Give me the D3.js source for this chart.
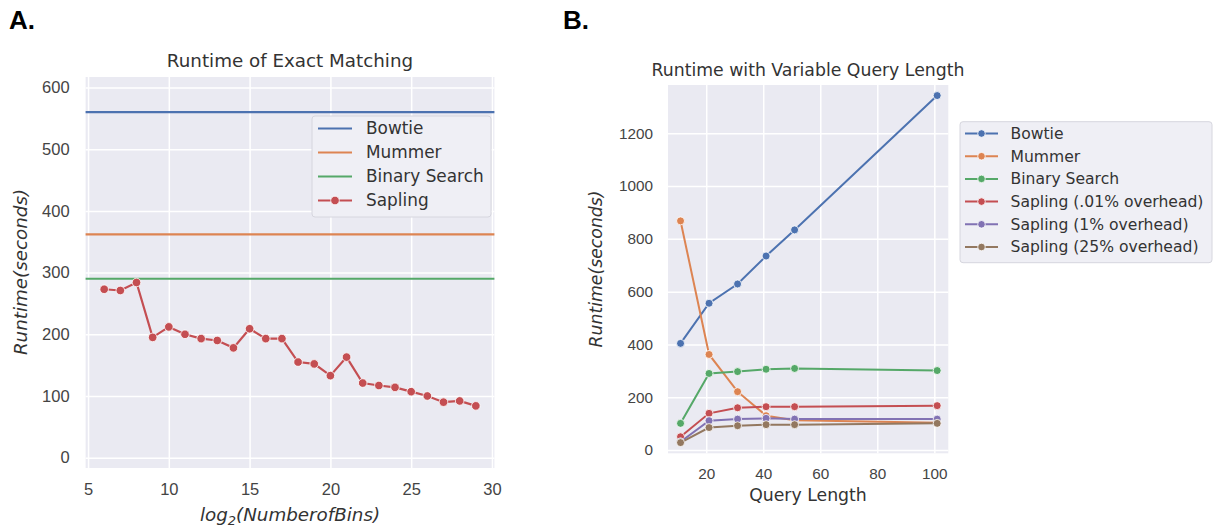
<!DOCTYPE html>
<html>
<head>
<meta charset="utf-8">
<script src="https://cdn.jsdelivr.net/npm/d3@7"></script>
<style>
  body { margin: 0; background: #fff; }
  svg { display: block; font-family: "DejaVu Sans", sans-serif; }
  .grid line { stroke: #fff; stroke-width: 1.5; }
  .grid .domain { display: none; }
  .grid text { fill: #444; }
</style>
</head>
<body>
<svg width="1214" height="527"></svg>
<script>
// panel A: runtime of exact matching
var binsX = [6, 7, 8, 9, 10, 11, 12, 13, 14, 15, 16, 17, 18, 19, 20, 21, 22, 23, 24, 25, 26, 27, 28, 29];
var saplingA = [273, 271, 284, 195, 212, 200, 193, 190, 178, 209, 193, 193, 155, 152, 133, 163, 121, 117, 114, 107, 100, 90, 92, 84];
var bowtieA = 560;
var mummerA = 362;
var binaryA = 290;
var ticksAx = [5, 10, 15, 20, 25, 30];
var ticksAy = [0, 100, 200, 300, 400, 500, 600];

// panel B: runtime with variable query length
var queryLen = [11, 21, 31, 41, 51, 101];
var bowtieB = [404, 556, 629, 735, 834, 1343];
var mummerB = [868, 362, 221, 130, 113, 103];
var binaryB = [101, 290, 297, 306, 309, 301];
var sap01B = [50, 139, 160, 164, 164, 168];
var sap1B = [31, 111, 117, 120, 117, 117];
var sap25B = [28, 85, 92, 96, 96, 101];
var ticksBx = [20, 40, 60, 80, 100];
var ticksBy = [0, 200, 400, 600, 800, 1000, 1200];

var colors = ["#4c72b0", "#dd8452", "#55a868", "#c44e52", "#8172b3", "#937860"];

var svg = d3.select("svg");

svg.append("text").attr("x", 9).attr("y", 29)
    .style("font-family", "'Liberation Sans', Arial, sans-serif")
    .style("font-weight", "bold").style("font-size", "26px").text("A.");
svg.append("text").attr("x", 563).attr("y", 29)
    .style("font-family", "'Liberation Sans', Arial, sans-serif")
    .style("font-weight", "bold").style("font-size", "26px").text("B.");

// ---------- panel A ----------
var xA = d3.scaleLinear().domain([4.85, 30.15]).range([85.6, 494.4]);
var yA = d3.scaleLinear().domain([-16.7, 617]).range([468, 77]);

var gA = svg.append("g");
gA.append("rect").attr("x", xA.range()[0]).attr("y", yA.range()[1])
    .attr("width", xA.range()[1] - xA.range()[0])
    .attr("height", yA.range()[0] - yA.range()[1])
    .attr("fill", "#eaeaf2");

gA.append("g").attr("class", "grid")
    .attr("transform", "translate(0," + yA.range()[0] + ")")
    .call(d3.axisBottom(xA).tickValues(ticksAx).tickSize(-(yA.range()[0] - yA.range()[1])).tickPadding(15))
    .call(function (g) { g.selectAll("text").style("font-size", "16.5px"); });

gA.append("g").attr("class", "grid")
    .attr("transform", "translate(" + xA.range()[0] + ",0)")
    .call(d3.axisLeft(yA).tickValues(ticksAy).tickSize(-(xA.range()[1] - xA.range()[0])).tickPadding(16))
    .call(function (g) { g.selectAll("text").style("font-size", "16.5px"); });

[[bowtieA, colors[0]], [mummerA, colors[1]], [binaryA, colors[2]]].forEach(function (h) {
    gA.append("line")
        .attr("x1", xA.range()[0]).attr("x2", xA.range()[1])
        .attr("y1", yA(h[0])).attr("y2", yA(h[0]))
        .attr("stroke", h[1]).attr("stroke-width", 2.2);
});

var lineA = d3.line()
    .x(function (d, i) { return xA(binsX[i]); })
    .y(function (d) { return yA(d); });

gA.append("path").datum(saplingA)
    .attr("d", lineA).attr("fill", "none")
    .attr("stroke", colors[3]).attr("stroke-width", 2.2);

gA.selectAll(".ptA").data(saplingA).enter().append("circle")
    .attr("cx", function (d, i) { return xA(binsX[i]); })
    .attr("cy", function (d) { return yA(d); })
    .attr("r", 4.3).attr("fill", colors[3])
    .attr("stroke", "#fff").attr("stroke-width", 0.8);

gA.append("text").attr("x", 290).attr("y", 66.5).attr("text-anchor", "middle")
    .style("font-size", "18.3px").attr("fill", "#333").text("Runtime of Exact Matching");

var xlab = gA.append("text").attr("x", 290).attr("y", 521).attr("text-anchor", "middle")
    .style("font-size", "18.3px").style("font-style", "italic").attr("fill", "#333");
xlab.append("tspan").text("log");
xlab.append("tspan").attr("dy", 4).style("font-size", "13px").text("2");
xlab.append("tspan").attr("dy", -4).text("(NumberofBins)");

gA.append("text").attr("transform", "translate(27,272) rotate(-90)").attr("text-anchor", "middle")
    .style("font-size", "18.3px").style("font-style", "italic").attr("fill", "#333")
    .text("Runtime(seconds)");

// legend A
var legA = gA.append("g");
legA.append("rect").attr("x", 312).attr("y", 116).attr("width", 179).attr("height", 101)
    .attr("rx", 3).attr("fill", "#efeff5").attr("stroke", "#d6d6de");
["Bowtie", "Mummer", "Binary Search", "Sapling"].forEach(function (name, i) {
    var yy = 128.5 + i * 24;
    legA.append("line").attr("x1", 318).attr("x2", 352).attr("y1", yy).attr("y2", yy)
        .attr("stroke", colors[i]).attr("stroke-width", 2.2);
    if (i === 3) {
        legA.append("circle").attr("cx", 335).attr("cy", yy).attr("r", 4.3)
            .attr("fill", colors[i]).attr("stroke", "#fff").attr("stroke-width", 0.8);
    }
    legA.append("text").attr("x", 366).attr("y", yy).attr("dy", "0.35em")
        .style("font-size", "16.9px").attr("fill", "#333").text(name);
});

// ---------- panel B ----------
var xB = d3.scaleLinear().domain([6.6, 104.9]).range([668, 948.3]);
var yB = d3.scaleLinear().domain([-12.5, 1383]).range([453.3, 85]);

var gB = svg.append("g");
gB.append("rect").attr("x", xB.range()[0]).attr("y", yB.range()[1])
    .attr("width", xB.range()[1] - xB.range()[0])
    .attr("height", yB.range()[0] - yB.range()[1])
    .attr("fill", "#eaeaf2");

gB.append("g").attr("class", "grid")
    .attr("transform", "translate(0," + yB.range()[0] + ")")
    .call(d3.axisBottom(xB).tickValues(ticksBx).tickSize(-(yB.range()[0] - yB.range()[1])).tickPadding(15))
    .call(function (g) { g.selectAll("text").style("font-size", "15.3px"); });

gB.append("g").attr("class", "grid")
    .attr("transform", "translate(" + xB.range()[0] + ",0)")
    .call(d3.axisLeft(yB).tickValues(ticksBy).tickFormat(d3.format("d"))
        .tickSize(-(xB.range()[1] - xB.range()[0])).tickPadding(15))
    .call(function (g) { g.selectAll("text").style("font-size", "15.3px"); });

var seriesB = [bowtieB, mummerB, binaryB, sap01B, sap1B, sap25B];
var namesB = ["Bowtie", "Mummer", "Binary Search", "Sapling (.01% overhead)", "Sapling (1% overhead)", "Sapling (25% overhead)"];

var lineB = d3.line()
    .x(function (d, i) { return xB(queryLen[i]); })
    .y(function (d) { return yB(d); });

seriesB.forEach(function (s, k) {
    gB.append("path").datum(s).attr("d", lineB).attr("fill", "none")
        .attr("stroke", colors[k]).attr("stroke-width", 2);
    gB.selectAll(".ptB" + k).data(s).enter().append("circle")
        .attr("cx", function (d, i) { return xB(queryLen[i]); })
        .attr("cy", function (d) { return yB(d); })
        .attr("r", 4).attr("fill", colors[k])
        .attr("stroke", "#fff").attr("stroke-width", 0.8);
});

gB.append("text").attr("x", 808).attr("y", 76).attr("text-anchor", "middle")
    .style("font-size", "17.3px").attr("fill", "#333").text("Runtime with Variable Query Length");

gB.append("text").attr("x", 808).attr("y", 501).attr("text-anchor", "middle")
    .style("font-size", "17.3px").attr("fill", "#333").text("Query Length");

gB.append("text").attr("transform", "translate(602,269) rotate(-90)").attr("text-anchor", "middle")
    .style("font-size", "17.3px").style("font-style", "italic").attr("fill", "#333")
    .text("Runtime(seconds)");

// legend B
var legB = gB.append("g");
legB.append("rect").attr("x", 960).attr("y", 121.7).attr("width", 252).attr("height", 141)
    .attr("rx", 3).attr("fill", "#efeff5").attr("stroke", "#d6d6de");
namesB.forEach(function (name, i) {
    var yy = 133.5 + i * 22.7;
    legB.append("line").attr("x1", 965).attr("x2", 998).attr("y1", yy).attr("y2", yy)
        .attr("stroke", colors[i]).attr("stroke-width", 2);
    legB.append("circle").attr("cx", 981.5).attr("cy", yy).attr("r", 3.8)
        .attr("fill", colors[i]).attr("stroke", "#fff").attr("stroke-width", 0.8);
    legB.append("text").attr("x", 1010.5).attr("y", yy).attr("dy", "0.35em")
        .style("font-size", "15.6px").attr("fill", "#333").text(name);
});
</script>
</body>
</html>
